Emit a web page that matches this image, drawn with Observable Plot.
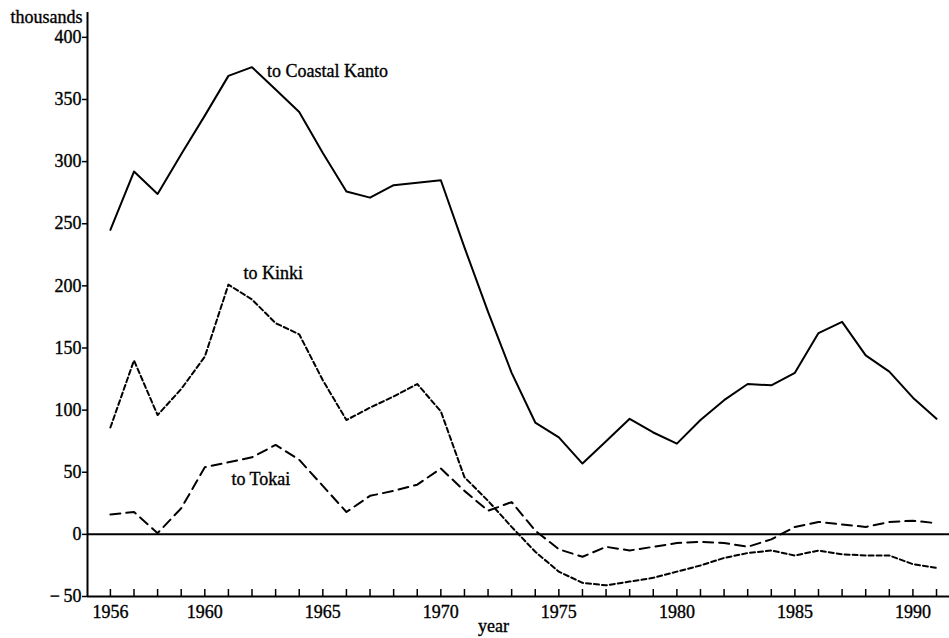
<!DOCTYPE html>
<html>
<head>
<meta charset="utf-8">
<script src="https://cdn.jsdelivr.net/npm/d3@7"></script>
<script src="https://cdn.jsdelivr.net/npm/@observablehq/plot@0.6"></script>
<style>
  html, body { margin: 0; padding: 0; background: #fff; }
  #chart svg { display: block; }
  #chart svg text { stroke: #000; stroke-width: 0.35px; }
</style>
</head>
<body>
<div id="chart"></div>
<script>
// ---- data (thousands of persons) ----
const years = [1956,1957,1958,1959,1960,1961,1962,1963,1964,1965,1966,1967,1968,1969,1970,1971,1972,1973,1974,1975,1976,1977,1978,1979,1980,1981,1982,1983,1984,1985,1986,1987,1988,1989,1990,1991];
const kanto = [245,292,274,306,337,369,376,358,340,307,276,271,281,283,285,231,179,130,90,78,57,75,93,82,73,92,108,121,120,130,162,171,144,131,110,93];
const kinki = [86,140,96,117,143,201,189,170,161,124,92,102,111,121,99,46,27,6,-14,-30,-39,-41,-38,-35,-30,-25,-19,-15,-13,-17,-13,-16,-17,-17,-24,-27];
const tokai = [16,18,1,21,54,58,62,72,60,39,18,31,35,40,53,35,19,26,3,-12,-18,-10,-13,-10,-7,-6,-7,-10,-4,6,10,8,6,10,11,9];
const seriesNames = ["to Coastal Kanto", "to Kinki", "to Tokai"];
const xTickLabels = [1956,1960,1965,1970,1975,1980,1985,1990];
const yTicks = [-50,0,50,100,150,200,250,300,350,400];
const yTitle = "thousands";
const xTitle = "year";

// ---- layout ----
const W = 949, H = 638;
const mL = 87, mR = 0, mT = 12, mB = 42;
const xDomain = [1955.03, 1991.55];
const yDomain = [-50, 420];
const pxPerUnit = (H - mT - mB) / (yDomain[1] - yDomain[0]);
const xTickLen = 7;
const font = "'Liberation Serif', 'Times New Roman', Times, serif";

const toRows = (vals, name) => years.map((year, i) => ({year, value: vals[i], series: name}));
const kantoRows = toRows(kanto, seriesNames[0]);
const kinkiRows = toRows(kinki, seriesNames[1]);
const tokaiRows = toRows(tokai, seriesNames[2]);
const at = (rows, yr) => rows.filter(d => d.year === yr);

const fmtY = d => d < 0 ? "\u2212\u2009" + Math.abs(d) : String(d);

const chart = Plot.plot({
  width: W,
  height: H,
  marginLeft: mL,
  marginRight: mR,
  marginTop: mT,
  marginBottom: mB,
  style: {fontFamily: font, fontSize: "18px", color: "#000", background: "#fff"},
  x: {domain: xDomain},
  y: {domain: yDomain},
  marks: [
    // axis lines
    Plot.ruleX([xDomain[0]], {stroke: "#000", strokeWidth: 2}),
    Plot.ruleY([yDomain[0]], {stroke: "#000", strokeWidth: 2}),
    // zero line
    Plot.ruleY([0], {stroke: "#000", strokeWidth: 2}),
    // y axis
    Plot.axisY(yTicks, {tickSize: 5, tickPadding: 1, strokeWidth: 1.5, fontSize: 18, tickFormat: fmtY, label: null}),
    // x axis labels
    Plot.axisX(xTickLabels, {tickSize: 0, tickPadding: 9, fontSize: 18, tickFormat: d => String(d), label: null}),
    // inward x ticks every year
    Plot.ruleX(years, {x: d => d, y1: yDomain[0], y2: yDomain[0] + xTickLen / pxPerUnit, stroke: "#000", strokeWidth: 1.5}),
    // series
    Plot.line(kantoRows, {x: "year", y: "value", stroke: "#000", strokeWidth: 2}),
    Plot.line(kinkiRows, {x: "year", y: "value", stroke: "#000", strokeWidth: 2, strokeDasharray: "5,3"}),
    Plot.line(tokaiRows, {x: "year", y: "value", stroke: "#000", strokeWidth: 2, strokeDasharray: "10,6"}),
    // series labels
    Plot.text(at(kantoRows, 1962), {x: "year", y: "value", text: "series", textAnchor: "start", dx: 15, dy: 4, fontSize: 18, fill: "#000"}),
    Plot.text(at(kinkiRows, 1961), {x: "year", y: "value", text: "series", textAnchor: "start", dx: 15, dy: -11, fontSize: 18, fill: "#000"}),
    Plot.text(at(tokaiRows, 1961), {x: "year", y: "value", text: "series", textAnchor: "start", dx: 3, dy: 17, fontSize: 18, fill: "#000"}),
    // axis titles
    Plot.text([yTitle], {frameAnchor: "top-left", text: d => d, textAnchor: "end", lineAnchor: "middle", dx: -5, dy: 5, fontSize: 18, fill: "#000"}),
    Plot.text([xTitle], {frameAnchor: "bottom", text: d => d, textAnchor: "middle", lineAnchor: "middle", dx: -25, dy: 30, fontSize: 18, fill: "#000"})
  ]
});

document.getElementById("chart").appendChild(chart);
</script>
</body>
</html>
